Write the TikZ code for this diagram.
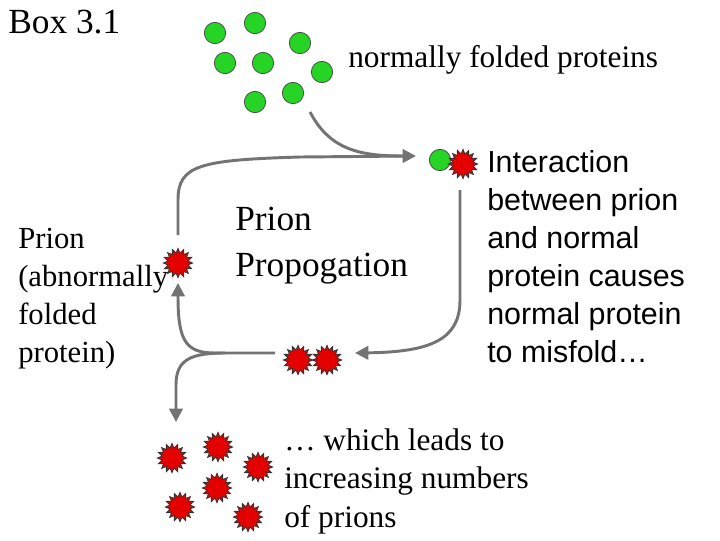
\documentclass[tikz,border=0pt]{standalone}
\usepackage{fontspec}
\setmainfont{Liberation Serif}
\newfontfamily\sansf{Liberation Sans}
\usetikzlibrary{shapes.geometric,arrows.meta}
\begin{document}
\begin{tikzpicture}[x=0.75pt,y=-0.75pt,
  g/.style={circle,draw=black!70,fill=green!80!black!85,minimum size=16pt,inner sep=0pt,line width=0.6pt},
  p/.style={star,star points=16,star point ratio=1.45,draw=black!80,fill=red!90!black,minimum size=22pt,inner sep=0pt,line width=0.6pt},
  ar/.style={draw=black!55,line width=2.2pt,-{Triangle[length=10pt,width=10pt]}},
  ln/.style={draw=black!55,line width=2.2pt},
  t/.style={anchor=north west,align=left,inner sep=0pt}]
\useasboundingbox (0,0) rectangle (720,540);
\foreach \n/\x/\y in {a/215/33,b/255/23,c/300/43,d/225/63,e/263/63,f/322/72,g1/255/102,h/293/93,gi/440/160}
  \node[g] (\n) at (\x,\y) {};
\foreach \n/\x/\y in {pi/463/164,pl/178/263,q1/298/360,q2/327/360,c1/172/458,c2/218/447,c3/258/467,c4/217/488,c5/180/507,c6/248/517}
  \node[p] (\n) at (\x,\y) {};
\coordinate (s1) at (310,112);
\coordinate (e1) at (416,156);
\coordinate (s2) at (178,235);
\coordinate (s3) at (460,190);
\coordinate (e3) at (355,353);
\coordinate (s4) at (275,353);
\coordinate (e4) at (178,283);
\coordinate (e5) at (176,422);
\coordinate (m) at (225,353);
\draw[ar] (s1) .. controls (330,150) and (360,156) .. (e1);
\draw[ln] (s2) -- (178,200) .. controls (178,165) and (200,160) .. (300,157) -- (410,156);
\draw[ar] (s3) -- (460,300) .. controls (460,340) and (430,352) .. (e3);
\draw[ar] (s4) -- (215,353) .. controls (185,353) and (178,340) .. (e4);
\draw[ar] (m) .. controls (190,353) and (176,360) .. (176,385) -- (e5);
\node[t,font=\fontsize{26.5}{30}\selectfont] (box) at (8,10) {Box 3.1};
\node[t,font=\fontsize{23.5}{28}\selectfont] (np) at (348,45) {normally folded proteins};
\node[t,font=\fontsize{26.5}{34}\selectfont] (pp) at (235,207) {Prion\\Propogation};
\node[t,font=\fontsize{23}{28.5}\selectfont] (pr) at (18,228) {Prion\\(abnormally\\folded\\protein)};
\node[t,font=\sansf\fontsize{22.8}{28.5}\selectfont] (in) at (487,150) {Interaction\\between prion\\and normal\\protein causes\\normal protein\\to misfold\ldots};
\node[t,font=\fontsize{23.5}{29}\selectfont] (ln2) at (284,428) {\ldots{} which leads to\\increasing numbers\\of prions};
\end{tikzpicture}
\end{document}
